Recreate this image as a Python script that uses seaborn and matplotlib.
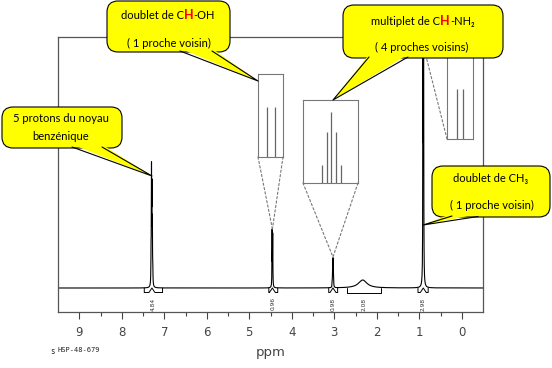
import numpy as np
import pandas as pd
import seaborn as sns
import matplotlib.pyplot as plt
from matplotlib.patches import FancyBboxPatch, Polygon, ConnectionPatch
from matplotlib.offsetbox import TextArea, HPacker, AnnotationBbox

# pics du spectre (ppm, hauteur)
peak_ppm = [7.31, 7.30, 7.29, 7.28, 7.27, 4.462, 4.448,
            3.045, 3.037, 3.03, 3.023, 3.015, 0.912, 0.898]
peak_height = [30, 108, 85, 55, 15, 55, 51,
               5, 15, 22, 15, 5, 300, 290]
broad_ppm = 2.33
broad_height = 8

# courbes d'integration
int_left = [7.47, 4.54, 3.13, 2.70, 1.03]
int_right = [7.04, 4.33, 2.92, 1.90, 0.79]
int_center = [7.29, 4.455, 3.03, 2.33, 0.905]
int_label = ['4.84', '0.96', '0.98', '2.08', '2.98']

# agrandissements
ohd_ppm = [4.457, 4.418]
ohd_h = [0.6, 0.6]
nh_ppm = [3.052, 3.039, 3.029, 3.016, 3.003]
nh_h = [0.22, 0.61, 0.86, 0.61, 0.22]
ch3_ppm = [0.922, 0.898]
ch3_h = [0.56, 0.56]

W, H = 552, 368

sns.set_theme(style='white')
plt.rcParams['font.family'] = ['DejaVu Sans']
CALL_FONT = ['Lato', 'DejaVu Sans']

# spectre = somme de lorentziennes
x = np.linspace(-0.5, 9.5, 40001)
y = np.zeros_like(x)
for p, h in zip(peak_ppm, peak_height):
    y += h * 0.004 ** 2 / ((x - p) ** 2 + 0.004 ** 2)
y += broad_height * 0.12 ** 2 / ((x - broad_ppm) ** 2 + 0.12 ** 2)
spec = pd.DataFrame({'ppm': x, 'intensite': y})

fig = plt.figure(figsize=(W / 100, H / 100), dpi=100)


def px_axes(x0, y0, x1, y1, **kw):
    return fig.add_axes([x0 / W, (H - y1) / H, (x1 - x0) / W, (y1 - y0) / H], **kw)


ax = px_axes(58, 37, 483, 312)
sns.lineplot(data=spec, x='ppm', y='intensite', ax=ax, color='black',
             lw=0.8, estimator=None, sort=False)
ax.set_xlim(9.5, -0.5)
ax.set_ylim(-24, 251)
ax.set_yticks([])
ax.set_ylabel('')
ax.set_xticks(range(0, 10))
ax.set_xticks(np.arange(0.5, 9.5, 1.0), minor=True)
ax.tick_params(axis='x', which='both', direction='out', bottom=True,
               colors='#444', labelsize=8.5, width=0.8, pad=5)
ax.tick_params(axis='x', which='major', length=5)
ax.tick_params(axis='x', which='minor', length=3)
for s in ax.spines.values():
    s.set_color('#555')
    s.set_linewidth(0.9)
ax.set_xlabel('ppm', fontsize=9.5, color='#444', labelpad=5)

for l, r, c, lab in zip(int_left, int_right, int_center, int_label):
    d = 0.07 if r - l > -0.5 else 0.0
    xs = [l, l, c + d, c, c - d, r, r] if d else [l, l, r, r]
    ys = [0, -4.5, -4.5, 0, -4.5, -4.5, 0] if d else [0, -4.5, -4.5, 0]
    ax.plot(xs, ys, color='black', lw=0.7)
    ax.text((l + r) / 2, -16, lab, rotation=90, fontsize=4.2, color='#333',
            ha='center', va='center')

fig.text(50 / W, (H - 351) / H, 's', fontsize=5.5, family='DejaVu Sans Mono',
         va='center')
fig.text(58 / W, (H - 350) / H, 'HSP-48-679', fontsize=5, family='DejaVu Sans Mono',
         va='center')


def inset(box, pos, hts, xlim, target, corners):
    a = px_axes(*box)
    a.set_facecolor('white')
    a.vlines(pos, 0, hts, color='#666', lw=0.9)
    a.set_xlim(*xlim)
    a.set_ylim(0, 1)
    a.set_xticks([])
    a.set_yticks([])
    for s in a.spines.values():
        s.set_color('#777')
        s.set_linewidth(0.8)
    a.set_zorder(1)
    for c in corners:
        cp = ConnectionPatch(xyA=c, coordsA=a.transAxes, xyB=target, coordsB=ax.transData,
                             color='#777', lw=0.8, linestyle=(0, (2, 2)), zorder=1.5)
        fig.add_artist(cp)


inset((258, 74, 283, 157), ohd_ppm, ohd_h, (4.50, 4.38), (4.455, 59), [(0, 0), (1, 0)])
inset((303, 100, 358, 183), nh_ppm, nh_h, (3.10, 2.96), (3.03, 31), [(0, 0), (1, 0)])
inset((447, 50, 473, 139), ch3_ppm, ch3_h, (0.96, 0.86), (0.89, 240), [(0, 0)])

# bulles
ov = fig.add_axes([0, 0, 1, 1])
ov.set_xlim(0, W)
ov.set_ylim(H, 0)
ov.axis('off')
ov.patch.set_alpha(0)
ov.set_zorder(3)

YEL = '#ffff00'


def bubble(x0, y0, x1, y1, b1, b2, tip):
    ov.add_patch(FancyBboxPatch((x0, y0), x1 - x0, y1 - y0,
                                boxstyle='round,pad=0,rounding_size=11',
                                fc=YEL, ec='black', lw=0.8, zorder=1))
    inn = 2.5 if b1[1] >= y1 - 1 else -2.5
    ov.add_patch(Polygon([(b1[0], b1[1] - inn), tip, (b2[0], b2[1] - inn)],
                         closed=True, fc=YEL, ec='none', zorder=2))
    ov.plot([b1[0], tip[0], b2[0]], [b1[1], tip[1], b2[1]], color='black', lw=0.8, zorder=3)


def label(cx, cy, parts):
    if isinstance(parts, str):
        ov.text(cx, cy, parts, ha='center', va='center', fontsize=8,
                family=CALL_FONT, color='black', zorder=4)
        return
    boxes = []
    for t, red in parts:
        props = dict(fontsize=8, family=CALL_FONT, color='black')
        if red:
            props.update(color='red', fontweight='bold', fontsize=9)
        boxes.append(TextArea(t, textprops=props))
    hp = HPacker(children=boxes, align='baseline', pad=0, sep=0)
    ab = AnnotationBbox(hp, (cx, cy), xycoords='data', frameon=False,
                        box_alignment=(0.5, 0.5), pad=0, zorder=4)
    ov.add_artist(ab)


bubble(2, 107, 122, 148, (72, 147), (102, 147), (152, 176))
label(61, 118, '5 protons du noyau')
label(61, 136, 'benzénique')

bubble(107, 1, 230, 52, (180, 51), (212, 51), (258, 81))
label(168, 15, [('doublet de C', False), ('H', True), ('-OH', False)])
label(169, 43, '( 1 proche voisin)')

bubble(343, 5, 503, 58, (369, 57), (408, 57), (333, 100))
label(423, 21, [('multiplet de C', False), ('H', True), ('-NH\u2082', False)])
label(422, 47, '( 4 proches voisins)')

bubble(432, 166, 550, 217, (452, 216), (478, 216.5), (423, 225))
label(491, 178, 'doublet de CH\u2083')
label(492, 205, '( 1 proche voisin)')

fig.savefig('out.png', dpi=100)
